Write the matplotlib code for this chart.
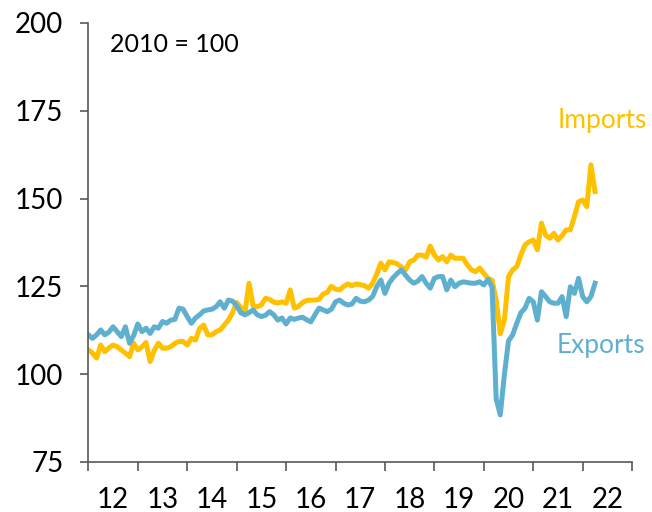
import numpy as np
import matplotlib
matplotlib.use("Agg")
import matplotlib.pyplot as plt

# Monthly index, 2010 = 100, Jan 2012 - Apr 2022
imports = [
    106.9, 106.0, 104.6, 108.3, 106.4, 107.5, 108.3, 107.8, 106.9, 106.0, 105.0, 108.8,  # 2012
    106.9, 107.8, 109.0, 103.6, 106.8, 108.8, 107.4, 107.4, 107.8, 108.8, 109.3, 109.3,  # 2013
    108.3, 110.2, 109.7, 113.0, 114.0, 111.2, 111.2, 112.1, 112.6, 114.0, 115.4, 117.5,  # 2014
    120.4, 119.0, 117.5, 125.9, 119.5, 119.2, 119.7, 121.6, 121.3, 120.5, 120.3, 120.6,  # 2015
    120.2, 124.0, 118.8, 119.3, 120.4, 121.0, 121.1, 121.1, 121.3, 122.8, 123.3, 125.0,  # 2016
    124.2, 124.0, 125.0, 125.7, 125.2, 125.7, 125.5, 125.2, 124.5, 125.9, 128.5, 131.6,  # 2017
    129.7, 132.0, 131.8, 131.4, 130.5, 129.7, 132.0, 132.5, 133.9, 133.9, 133.3, 136.5,  # 2018
    133.9, 132.5, 133.5, 132.0, 133.9, 133.0, 133.0, 133.0, 131.1, 129.7, 129.2, 130.2,  # 2019
    128.7, 127.3, 126.8, 121.0, 111.5, 115.5, 127.8, 129.7, 130.6, 134.0, 136.8, 137.7,  # 2020
    138.2, 135.4, 143.0, 139.6, 138.7, 140.1, 138.2, 139.5, 141.1, 141.1, 144.9, 149.1,  # 2021
    149.6, 147.7, 159.6, 152.0,                                                          # 2022
]
exports = [
    111.2, 110.2, 111.2, 112.6, 111.2, 112.0, 113.5, 112.1, 110.7, 113.5, 108.8, 111.0,  # 2012
    114.3, 112.1, 113.1, 111.6, 113.5, 113.1, 115.0, 114.5, 115.4, 115.6, 118.8, 118.5,  # 2013
    116.4, 114.5, 116.0, 116.9, 118.0, 118.3, 118.5, 119.2, 120.6, 118.8, 121.1, 120.8,  # 2014
    119.5, 117.5, 116.9, 117.5, 118.3, 116.9, 116.4, 116.8, 117.8, 116.9, 115.4, 116.0,  # 2015
    114.3, 116.0, 115.6, 116.0, 116.2, 115.5, 114.9, 116.9, 118.8, 118.3, 117.8, 118.5,  # 2016
    120.6, 121.1, 120.2, 119.7, 120.0, 121.6, 120.8, 120.6, 121.1, 122.1, 124.9, 126.8,  # 2017
    123.0, 125.9, 127.5, 128.7, 129.7, 128.2, 126.8, 125.9, 126.5, 127.8, 125.9, 124.5,  # 2018
    127.3, 127.8, 127.8, 124.0, 126.8, 124.9, 125.9, 126.3, 126.1, 125.9, 125.9, 126.3,  # 2019
    125.4, 127.0, 124.8, 93.0, 88.4, 100.0, 109.5, 111.2, 114.5, 117.5, 118.8, 121.6,    # 2020
    120.6, 115.4, 123.5, 122.1, 120.6, 120.2, 120.2, 122.1, 116.4, 124.9, 123.0, 127.3,  # 2021
    122.1, 120.6, 122.1, 125.9,                                                          # 2022
]
start_year = 2012
year_labels = ["12", "13", "14", "15", "16", "17", "18", "19", "20", "21", "22"]
y_ticks = [75, 100, 125, 150, 175, 200]

GOLD = "#FFC000"
BLUE = "#5FB0CF"
AXIS = "#595959"

plt.rcParams["font.family"] = ["Lato", "DejaVu Sans"]

x = start_year + np.arange(len(imports)) / 12.0

fig = plt.figure(figsize=(6.52, 5.12), dpi=100)
ax = fig.add_axes([0.1355, 0.0977, 0.834, 0.8574])

ax.plot(x, imports, color=GOLD, lw=3.6, solid_joinstyle="round")
ax.plot(x, exports, color=BLUE, lw=3.6, solid_joinstyle="round")

n_years = len(year_labels)
ax.set_xlim(start_year, start_year + n_years)
ax.set_ylim(75, 200)

ax.set_xticks(start_year + np.arange(n_years + 1))
ax.set_xticklabels([])
ax.set_xticks(start_year + np.arange(n_years) + 0.5, minor=True)
ax.set_xticklabels(year_labels, minor=True)
ax.tick_params(axis="x", which="major", length=6.5, width=1.2, color=AXIS, direction="out")
ax.tick_params(axis="x", which="minor", length=0, pad=18, labelsize=20, labelcolor="black")

ax.set_yticks(y_ticks)
ax.tick_params(axis="y", length=6, width=1.2, color=AXIS, pad=12, labelsize=20,
               labelcolor="black")

for side in ["top", "right"]:
    ax.spines[side].set_visible(False)
for side in ["left", "bottom"]:
    ax.spines[side].set_color(AXIS)
    ax.spines[side].set_linewidth(1.2)

ax.text(0.04, 0.978, "2010 = 100", transform=ax.transAxes, fontsize=18,
        va="top", ha="left")
ax.text(0.945, 0.761, "Imports", transform=ax.transAxes, fontsize=19,
        color=GOLD, ha="center", va="baseline")
ax.text(0.943, 0.248, "Exports", transform=ax.transAxes, fontsize=19,
        color=BLUE, ha="center", va="baseline")

fig.savefig("out.png", dpi=100)
